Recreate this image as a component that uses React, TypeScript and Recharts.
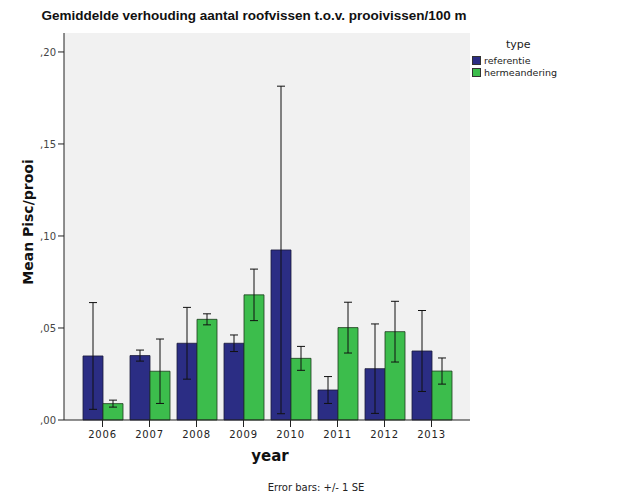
import React from 'react';
import {
  BarChart, Bar, XAxis, YAxis, CartesianGrid, ErrorBar,
} from 'recharts';

const YEARS = ['2006', '2007', '2008', '2009', '2010', '2011', '2012', '2013'];
const REFERENTIE = [0.0348, 0.035, 0.0417, 0.0417, 0.0924, 0.0163, 0.0279, 0.0375];
const REFERENTIE_SE = [0.029, 0.003, 0.0195, 0.0045, 0.089, 0.0073, 0.0243, 0.022];
const HERMEANDERING = [0.0089, 0.0265, 0.0547, 0.068, 0.0335, 0.0502, 0.048, 0.0266];
const HERMEANDERING_SE = [0.0019, 0.0175, 0.003, 0.014, 0.0065, 0.0138, 0.0165, 0.0071];
const Y_TICKS = [0, 0.05, 0.1, 0.15, 0.2];

const BLUE = '#2b2d84';
const GREEN = '#3cbd4c';
const FONT = '"DejaVu Sans", sans-serif';

const data = YEARS.map((year, i) => ({
  year,
  referentie: REFERENTIE[i],
  referentieSE: REFERENTIE_SE[i],
  hermeandering: HERMEANDERING[i],
  hermeanderingSE: HERMEANDERING_SE[i],
}));

const fmt = (v: number) => ',' + v.toFixed(2).split('.')[1];

const LegendBox = () => (
  <div style={{ position: 'absolute', left: 472, top: 38, fontFamily: FONT, color: '#222' }}>
    <div style={{ fontSize: 11, marginLeft: 34, marginBottom: 3 }}>type</div>
    {[['referentie', BLUE], ['hermeandering', GREEN]].map(([name, color]) => (
      <div key={name} style={{ display: 'flex', alignItems: 'center', fontSize: 9.5, height: 12 }}>
        <span style={{ width: 9, height: 9, background: color, border: '1px solid #333', boxSizing: 'border-box', marginRight: 3 }} />
        {name}
      </div>
    ))}
  </div>
);

export default function App() {
  return (
    <div style={{ position: 'absolute', left: 0, top: 0, width: 629, height: 504, background: '#fff', fontFamily: FONT }}>
      <div style={{ position: 'absolute', left: 0, width: 508, top: 8, textAlign: 'center', fontWeight: 'bold', fontSize: 13.5, color: '#111', fontFamily: '"Liberation Sans", sans-serif' }}>
        Gemiddelde verhouding aantal roofvissen t.o.v. prooivissen/100 m
      </div>
      <BarChart
        width={629}
        height={504}
        data={data}
        margin={{ top: 33, right: 159, bottom: 54, left: 14 }}
        barGap={0}
        barCategoryGap={4}
      >
        <CartesianGrid horizontal={false} vertical={false} fill="#f1f1f1" />
        <XAxis
          dataKey="year"
          height={30}
          padding={{ left: 15, right: 15 }}
          tick={{ fill: '#222', fontSize: 10, fontFamily: FONT, letterSpacing: 0.8, dy: 2 }}
          tickLine={{ stroke: '#222' }}
          tickSize={7}
          axisLine={{ stroke: '#222' }}
        />
        <XAxis xAxisId="top" dataKey="year" orientation="top" height={0} tick={false} tickLine={false} axisLine={{ stroke: '#555' }} />
        <YAxis
          width={50}
          domain={[0, 0.2103]}
          ticks={Y_TICKS}
          tickFormatter={fmt}
          tick={{ fill: '#444', fontSize: 10, fontFamily: FONT }}
          tickLine={{ stroke: '#222' }}
          tickSize={6}
          axisLine={{ stroke: '#222' }}
        />
        <YAxis yAxisId="right" orientation="right" width={0} tick={false} tickLine={false} axisLine={{ stroke: '#555' }} />
        <Bar dataKey="referentie" fill={BLUE} stroke="#1a1a3a" strokeWidth={0.8} isAnimationActive={false}>
          <ErrorBar dataKey="referentieSE" width={4} stroke="#111" strokeWidth={1} />
        </Bar>
        <Bar dataKey="hermeandering" fill={GREEN} stroke="#1d3a1d" strokeWidth={0.8} isAnimationActive={false}>
          <ErrorBar dataKey="hermeanderingSE" width={4} stroke="#111" strokeWidth={1} />
        </Bar>
      </BarChart>
      <LegendBox />
      <div style={{ position: 'absolute', left: 8, top: 222, width: 40, height: 0 }}>
        <div style={{ position: 'absolute', left: 20, top: 0, transform: 'translate(-50%, -50%) rotate(-90deg)', whiteSpace: 'nowrap', fontWeight: 'bold', fontSize: 14, color: '#111' }}>
          Mean Pisc/prooi
        </div>
      </div>
      <div style={{ position: 'absolute', left: 170, width: 200, top: 447, textAlign: 'center', fontWeight: 'bold', fontSize: 15, color: '#111' }}>
        year
      </div>
      <div style={{ position: 'absolute', left: 216, width: 200, top: 482, textAlign: 'center', fontSize: 10, color: '#222' }}>
        Error bars: +/- 1 SE
      </div>
    </div>
  );
}
